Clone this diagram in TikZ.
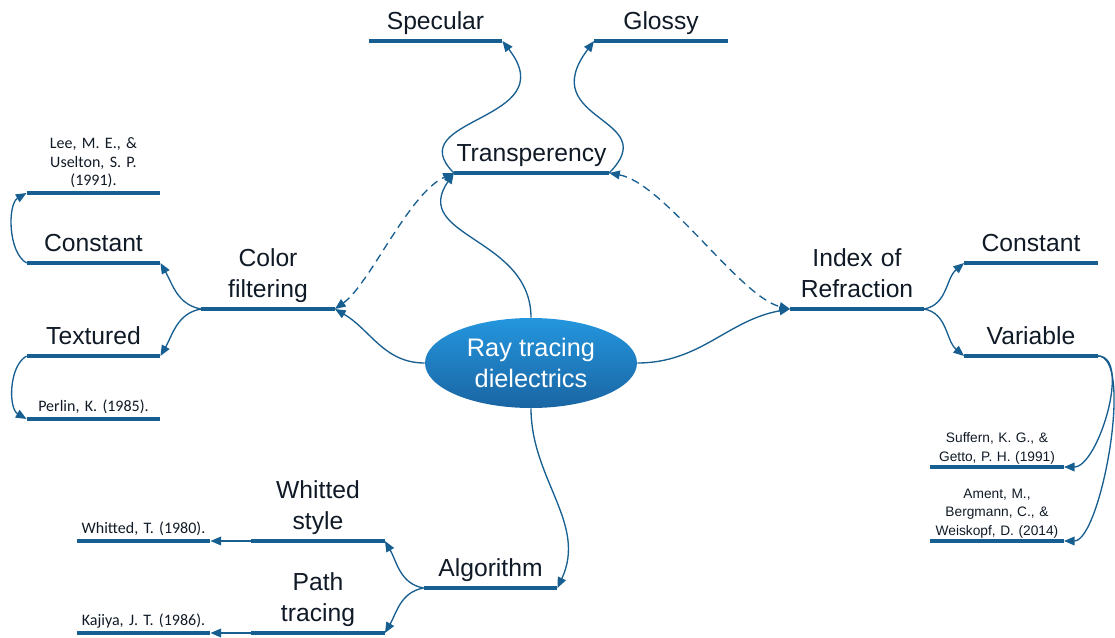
\documentclass[tikz,border=0pt]{standalone}
\usepackage{fontspec}
\setmainfont{Liberation Sans}
\newfontfamily\citefont{Carlito}
\usetikzlibrary{shapes.geometric,arrows.meta}
\definecolor{barblue}{RGB}{24,95,145}
\definecolor{ink}{RGB}{16,26,38}
\definecolor{balltop}{RGB}{36,150,222}
\definecolor{ballbot}{RGB}{26,101,163}

\begin{document}
\begin{tikzpicture}[x=0.75pt, y=0.75pt, >={Triangle[length=8pt,width=6.5pt]}]
    \tikzstyle{topic}=[anchor=south, inner xsep=0pt, inner ysep=1.2pt, text width=100pt, align=center, text=ink, font=\fontsize{18.5}{23.5}\selectfont, execute at end node=\strut]
    \tikzstyle{cite}=[topic, inner ysep=1pt, font=\citefont\fontsize{12}{14}\selectfont]
    \tikzstyle{ref}=[topic, inner ysep=0pt, font=\fontsize{10.3}{13.9}\selectfont]
    \tikzstyle{bar}=[draw=barblue, line width=3.5pt]
    \tikzstyle{link}=[draw=barblue, line width=1pt, ->]
    \useasboundingbox (0,0) rectangle (1115,637);

    % centre
    \node [ellipse, minimum width=159pt, minimum height=67.5pt, inner sep=0pt, top color=balltop, bottom color=ballbot, text=white, align=center, font=\fontsize{19}{23.5}\selectfont] (ray) at (531,274) {Ray tracing\\dielectrics};

    % draw topics
    \node [topic, text width=116pt] (transp) at (531.5,464) {Transperency};
    \node [topic] (specular) at (435.5,596) {Specular};
    \node [topic] (glossy) at (661,596) {Glossy};
    \node [topic] (colfilter) at (268,328) {Color\\filtering};
    \node [topic] (constL) at (93.5,374) {Constant};
    \node [topic] (textured) at (93.5,281) {Textured};
    \node [cite] (lee) at (93.5,444) {Lee, M. E., \&\\Uselton, S. P.\\(1991).};
    \node [cite] (perlin) at (93.5,218) {Perlin, K. (1985).};
    \node [topic] (ior) at (857,328) {Index of\\Refraction};
    \node [topic] (constR) at (1031,374) {Constant};
    \node [topic] (variable) at (1031,281) {Variable};
    \node [ref] (suffern) at (997,170) {Suffern, K. G., \&\\Getto, P. H. (1991)};
    \node [ref] (ament) at (997,96) {Ament, M.,\\Bergmann, C., \&\\Weiskopf, D. (2014)};
    \node [topic] (algo) at (490.5,49) {Algorithm};
    \node [topic] (whitstyle) at (318,96) {Whitted\\style};
    \node [topic] (pathtr) at (318,4) {Path\\tracing};
    \node [cite] (whitted) at (143.5,96) {Whitted, T. (1980).};
    \node [cite] (kajiya) at (143.5,4) {Kajiya, J. T. (1986).};

    % draw bars
    \foreach \n in {transp,specular,glossy,colfilter,constL,textured,lee,perlin,ior,constR,variable,suffern,ament,algo,whitstyle,pathtr,whitted,kajiya}
    \draw [bar] (\n.south west) -- (\n.south east);

    % draw lines
    \draw [link] (ray.north) .. controls +(0,81) and +(-44,-64) .. (transp.south west);
    \draw [link] (ray.west) to[out=180,in=-30] (colfilter.south east);
    \draw [link] (ray.east) to[out=0,in=190] (ior.south west);
    \draw [link] (ray.south) to[out=-90,in=65] (algo.south east);

    \draw [link] (transp.south west) .. controls +(-56,56) and +(63,-81) .. (specular.south east);
    \draw [link] (transp.south east) .. controls +(56,56) and +(-61,-81) .. (glossy.south west);
    \draw [link, <->, dash pattern=on 6pt off 4pt] (colfilter.south east) .. controls +(35,25) and +(-45,-20) .. (transp.south west);
    \draw [link, <->, dash pattern=on 6pt off 4pt] (transp.south east) .. controls +(55,-10) and +(-50,12) .. (ior.south west);

    \draw [link] (colfilter.south west) to[out=170,in=-60] (constL.south east);
    \draw [link] (colfilter.south west) to[out=190,in=60] (textured.south east);
    \draw [link] (constL.south west) to[out=150,in=210,looseness=0.8] (lee.south west);
    \draw [link] (textured.south west) to[out=210,in=150,looseness=0.85] (perlin.south west);

    \draw [link] (ior.south east) to[out=10,in=-140] (constR.south west);
    \draw [link] (ior.south east) to[out=-10,in=140] (variable.south west);
    \draw [link] (variable.south east) to[out=0,in=0,looseness=0.75] (suffern.south east);
    \draw [link] (variable.south east) to[out=0,in=0,looseness=0.5] (ament.south east);

    \draw [link] (algo.south west) to[out=170,in=-60] (whitstyle.south east);
    \draw [link] (algo.south west) to[out=190,in=60] (pathtr.south east);
    \draw [link] (whitstyle.south west) -- (whitted.south east);
    \draw [link] (pathtr.south west) -- (kajiya.south east);
\end{tikzpicture}
\end{document}
